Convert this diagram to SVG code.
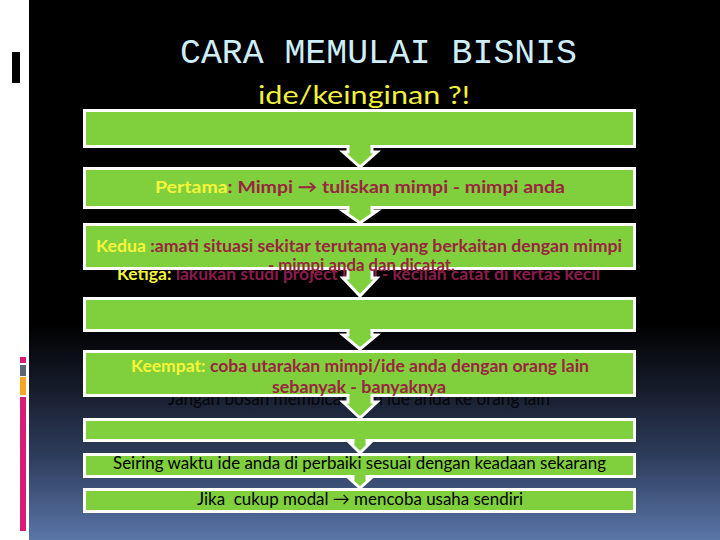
<svg xmlns="http://www.w3.org/2000/svg" width="720" height="540" viewBox="0 0 720 540">
<defs>
<linearGradient id="bg" x1="0" y1="0" x2="0" y2="1">
<stop offset="0" stop-color="#000000"/>
<stop offset="0.6" stop-color="#000000"/>
<stop offset="0.72" stop-color="#161c2b"/>
<stop offset="0.85" stop-color="#2f3e5e"/>
<stop offset="1" stop-color="#5a76a8"/>
</linearGradient>
<style>
.box{fill:#7fd03c;stroke:#ffffff;stroke-width:3}
.arr{fill:#7fd03c;stroke:#ffffff;stroke-width:3;stroke-linejoin:miter}
.t{font-family:Lato,"Open Sans","Liberation Sans",sans-serif;font-weight:bold;font-size:17px;fill:#9a2540}
.y{fill:#f5f53a}
.plain{font-family:Lato,"Open Sans","Liberation Sans",sans-serif;font-size:17.5px;fill:#000000}
</style>
</defs>
<rect x="0" y="0" width="720" height="540" fill="#ffffff"/>
<rect x="29" y="0" width="691" height="540" fill="url(#bg)"/>
<g id="accents">
<rect x="12" y="52" width="8" height="31" fill="#000000"/>
<rect x="20" y="357" width="6" height="6" fill="#d81b74"/>
<rect x="20" y="365" width="6" height="11" fill="#5b6472"/>
<rect x="20" y="377" width="6" height="18" fill="#f5a623"/>
<rect x="20" y="397" width="6" height="134" fill="#d81b74"/>
</g>
<g id="title">
<text x="180" y="63" textLength="397" lengthAdjust="spacingAndGlyphs" font-family="'Liberation Mono','DejaVu Sans Mono',monospace" font-size="35" fill="#cdeefa">CARA MEMULAI BISNIS</text>
<text x="258" y="104" textLength="212" lengthAdjust="spacingAndGlyphs" font-family="Lato,'Open Sans',sans-serif" font-size="25" fill="#f2f23a">ide/keinginan ?!</text>
</g>
<g id="box1"><rect class="box" x="84.5" y="110.5" width="550" height="36"/></g>
<g id="box2"><rect class="box" x="84.5" y="168.5" width="550" height="39"/>
<text class="t" x="155" y="193" textLength="410" lengthAdjust="spacingAndGlyphs"><tspan class="y">Pertama</tspan>: Mimpi → tuliskan mimpi - mimpi anda</text></g>
<g id="ketiga">
<text class="t" x="117" y="280" textLength="483" lengthAdjust="spacingAndGlyphs" style="fill:#8c1c4c"><tspan class="y">Ketiga:</tspan> lakukan studi project kecil - kecilan catat di kertas kecil</text></g>
<g id="jangan">
<text x="168" y="405" textLength="382" lengthAdjust="spacingAndGlyphs" font-family="Lato,'Open Sans',sans-serif" font-size="19.5" fill="#06060a">Jangan bosan membicarakan ide anda ke orang lain</text></g>
<g id="box3"><rect class="box" x="84.5" y="224.5" width="550" height="44"/></g>
<g id="box4"><rect class="box" x="84.5" y="298.5" width="550" height="32"/></g>
<g id="box5"><rect class="box" x="84.5" y="351.5" width="550" height="44"/></g>
<g id="box6"><rect class="box" x="84.5" y="419.5" width="550" height="21"/></g>
<g id="box7"><rect class="box" x="84.5" y="454.5" width="550" height="22"/></g>
<g id="box8"><rect class="box" x="84.5" y="489.5" width="550" height="22"/></g>
<g id="connectors">
<path class="arr" d="M348,145 V152 H343 L360,167 L377,152 H372 V145"/>
<path class="arr" d="M348,206 V211 H343 L360,223 L377,211 H372 V206"/>
<path class="arr" d="M348,267 V278 H343 L360,296 L377,278 H372 V267"/>
<path class="arr" d="M348,329 V335 H343 L360,349 L377,335 H372 V329"/>
<path class="arr" d="M348,394 V402 H343 L360,418 L377,402 H372 V394"/>
<path class="arr" d="M353,439 V443 H350 L360,453 L370,443 H367 V439"/>
<path class="arr" d="M353,475 V479 H350 L360,488 L370,479 H367 V475"/>
</g>
<g id="texts">
<text class="t" x="96" y="252" textLength="526" lengthAdjust="spacingAndGlyphs"><tspan class="y">Kedua</tspan> :amati situasi sekitar terutama yang berkaitan dengan mimpi</text>
<text class="t" x="268" y="271" textLength="187" lengthAdjust="spacingAndGlyphs">- mimpi anda dan dicatat.</text>
<text class="t" x="131" y="372" textLength="458" lengthAdjust="spacingAndGlyphs"><tspan class="y">Keempat:</tspan> coba utarakan mimpi/ide anda dengan orang lain</text>
<text class="t" x="272" y="393" textLength="174" lengthAdjust="spacingAndGlyphs">sebanyak - banyaknya</text>
<text class="plain" x="113" y="469" textLength="493" lengthAdjust="spacingAndGlyphs">Seiring waktu ide anda di perbaiki sesuai dengan keadaan sekarang</text>
<text class="plain" x="197" y="505" textLength="326" lengthAdjust="spacingAndGlyphs" xml:space="preserve">Jika  cukup modal → mencoba usaha sendiri</text>
</g>
</svg>
